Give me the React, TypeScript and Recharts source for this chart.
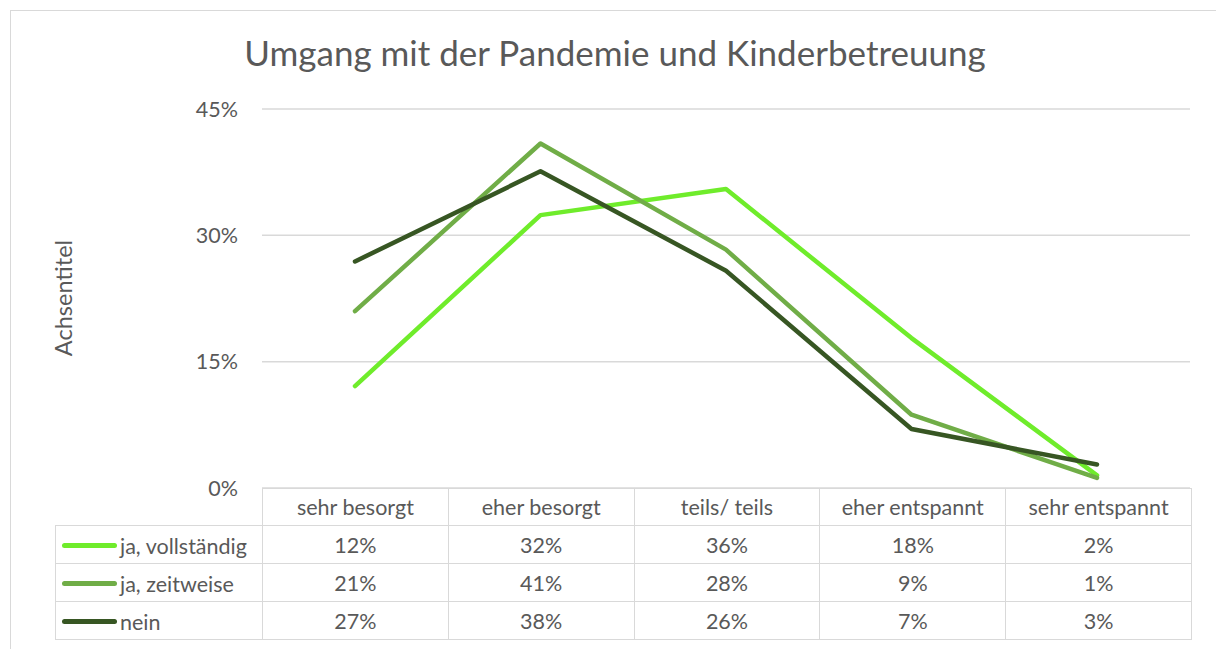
import { LineChart, Line, XAxis, YAxis, CartesianGrid } from "recharts";

const categories = ["sehr besorgt", "eher besorgt", "teils/ teils", "eher entspannt", "sehr entspannt"];
const seriesNames = ["ja, vollständig", "ja, zeitweise", "nein"];
const seriesColors = ["#6fec2b", "#70ad47", "#375623"];

const vollstaendig = [12.1, 32.4, 35.5, 17.8, 1.5];
const zeitweise = [21.0, 40.9, 28.3, 8.7, 1.2];
const nein = [26.9, 37.6, 25.8, 7.0, 2.8];

const yTicks = [0, 15, 30, 45];

const seriesValues = [vollstaendig, zeitweise, nein];
const data = categories.map((cat, i) => ({
  cat,
  s0: vollstaendig[i],
  s1: zeitweise[i],
  s2: nein[i],
}));

const font = "Lato, 'Open Sans', sans-serif";
const grey = "#595959";
const border = "1.5px solid #d9d9d9";

export default function App() {
  const cell: React.CSSProperties = {
    border,
    textAlign: "center",
    padding: 0,
    fontSize: 21.5,
    color: grey,
  };
  return (
    <div style={{ position: "absolute", left: 0, top: 0, width: 1216, height: 649, overflow: "hidden", background: "#fff", fontFamily: font }}>
      <div style={{ position: "absolute", left: 10, top: 10, width: 1206, height: 639, borderTop: border, borderLeft: border }} />
      <div style={{ position: "absolute", left: 0, width: 1230, top: 31, textAlign: "center", fontSize: 35, color: grey }}>
        Umgang mit der Pandemie und Kinderbetreuung
      </div>
      <div style={{ position: "absolute", left: 63, top: 298, transform: "translate(-50%, -50%) rotate(-90deg)", fontSize: 23.5, color: grey, whiteSpace: "nowrap" }}>
        Achsentitel
      </div>
      <div style={{ position: "absolute", left: 0, top: 0 }}>
        <LineChart width={1216} height={649} data={data} margin={{ top: 109, right: 26, bottom: 161, left: 202 }}>
          <CartesianGrid vertical={false} stroke="#d9d9d9" strokeWidth={1.5} />
          <XAxis dataKey="cat" hide scale="point" padding={{ left: 93, right: 93 }} />
          <YAxis
            width={60}
            domain={[0, 45]}
            ticks={yTicks}
            axisLine={false}
            tickLine={false}
            tickMargin={18}
            tickFormatter={(v: number) => `${v}%`}
            tick={{ fill: grey, fontSize: 21.5, fontFamily: font }}
          />
          {seriesNames.map((name, i) => (
            <Line
              key={name}
              dataKey={`s${i}`}
              name={name}
              stroke={seriesColors[i]}
              strokeWidth={4.5}
              strokeLinecap="round"
              strokeLinejoin="round"
              dot={false}
              isAnimationActive={false}
            />
          ))}
        </LineChart>
      </div>
      <table
        style={{
          position: "absolute",
          left: 55,
          top: 488,
          width: 1136,
          borderCollapse: "collapse",
          tableLayout: "fixed",
          fontFamily: font,
        }}
      >
        <colgroup>
          <col style={{ width: 207 }} />
          {categories.map((c) => (
            <col key={c} style={{ width: 185.8 }} />
          ))}
        </colgroup>
        <tbody>
          <tr style={{ height: 37 }}>
            <td style={{ padding: 0 }} />
            {categories.map((c) => (
              <td key={c} style={cell}>{c}</td>
            ))}
          </tr>
          {seriesNames.map((name, i) => (
            <tr key={name} style={{ height: 38 }}>
              <td style={{ ...cell, textAlign: "left", whiteSpace: "nowrap" }}>
                <span style={{ display: "inline-block", width: 55, height: 5, borderRadius: 3, background: seriesColors[i], verticalAlign: "middle", marginLeft: 6, marginRight: 3 }} />
                <span style={{ verticalAlign: "middle" }}>{name}</span>
              </td>
              {seriesValues[i].map((v, j) => (
                <td key={j} style={cell}>{`${Math.round(v)}%`}</td>
              ))}
            </tr>
          ))}
        </tbody>
      </table>
    </div>
  );
}
